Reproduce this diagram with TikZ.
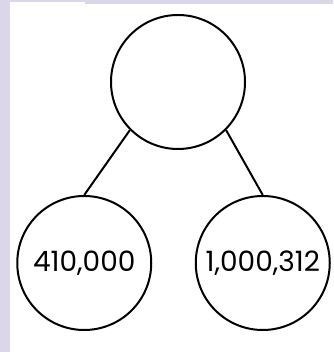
\documentclass[tikz,border=0pt]{standalone}
\usepackage{fontspec}
\setmainfont{Poppins}
\definecolor{lavender}{RGB}{220,214,235}

\begin{document}
\begin{tikzpicture}
  [x=1pt, y=1pt, level distance = 181pt,
   every node/.style={draw, circle, line width=2pt, inner sep=0pt, minimum size=134pt,
                      font=\fontsize{28}{32}\selectfont},
   edge from parent/.style={draw, line width=2pt},
   level 1/.style={sibling distance = 178.5pt}]
  % page background
  \fill[lavender] (0,0) rectangle (333,352);
  \fill[white] (10,0) rectangle (333,348);
  \fill[white] (10,348) rectangle (85,350.3);
  \useasboundingbox (0,0) rectangle (333,352);
  \node (root) at (178,270) {}
     child [xshift=-4.5pt, edge from parent path={(\tikzparentnode.south west) -- (\tikzchildnode.north)}]
       {node (left) {410,000}}
     child [xshift=-4.5pt, edge from parent path={(\tikzparentnode.south east) -- (\tikzchildnode.north)}]
       {node (right) {1,000,312}};
\end{tikzpicture}
\end{document}
